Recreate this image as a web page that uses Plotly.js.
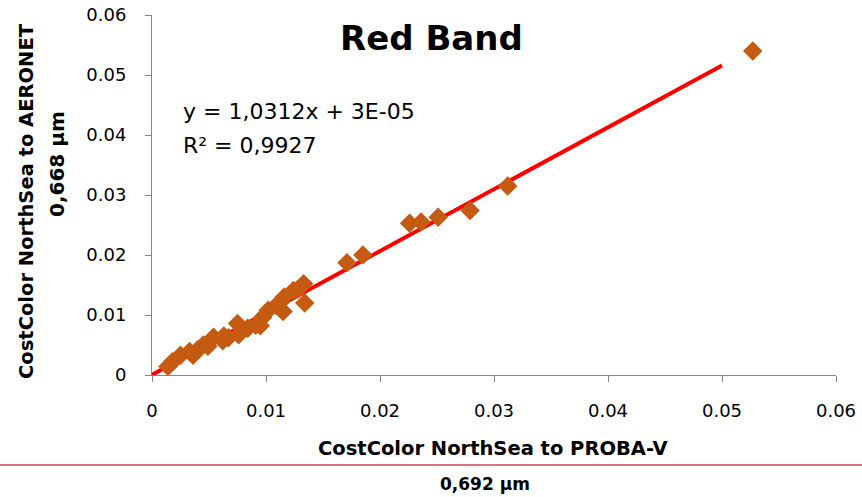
<!DOCTYPE html>
<html>
<head>
<meta charset="utf-8">
<script src="https://cdn.plot.ly/plotly-3.0.1.min.js"></script>
<style>
  html, body { margin: 0; padding: 0; background: #fff; }
  #chart { width: 862px; height: 497px; }
</style>
</head>
<body>
<div id="chart"></div>
<script>
// CostColor NorthSea reflectance, PROBA-V (0,692 µm) vs AERONET (0,668 µm)
const probaV = [
  0.0014, 0.0018, 0.0025, 0.0033, 0.0036, 0.0040, 0.0045, 0.0049, 0.0054, 0.0062,
  0.0063, 0.0067, 0.0075, 0.0076, 0.0084, 0.0091, 0.0095, 0.0097, 0.0102, 0.0109,
  0.0112, 0.0115, 0.0116, 0.0124, 0.0128, 0.0133, 0.0134, 0.0171, 0.0185, 0.0226,
  0.0236, 0.0251, 0.0279, 0.0312, 0.0527
];
const aeronet = [
  0.0014, 0.0022, 0.0033, 0.0039, 0.0033, 0.0042, 0.0050, 0.0048, 0.0063, 0.0057,
  0.0065, 0.0062, 0.0086, 0.0067, 0.0078, 0.0083, 0.0082, 0.0096, 0.0108, 0.0116,
  0.0120, 0.0106, 0.0130, 0.0141, 0.0143, 0.0152, 0.0120, 0.0187, 0.0200, 0.0253,
  0.0255, 0.0263, 0.0274, 0.0315, 0.0540
];

// Linear trend line: y = 1,0312x + 3E-05
const slope = 1.0312;
const intercept = 0.00003;
const trendX = [0, 0.05];
const trendY = trendX.map(x => slope * x + intercept);

const xTicks = [0, 0.01, 0.02, 0.03, 0.04, 0.05, 0.06];
const yTicks = [0, 0.01, 0.02, 0.03, 0.04, 0.05, 0.06];
const xTickText = ['0', '0.01', '0.02', '0.03', '0.04', '0.05', '0.06'];
const yTickText = ['0', '0.01', '0.02', '0.03', '0.04', '0.05', '0.06'];

const FONT = '"DejaVu Sans", "Liberation Sans", sans-serif';
const AXIS_GREY = '#868686';

const traces = [
  {
    x: trendX, y: trendY, type: 'scatter', mode: 'lines',
    line: { color: '#FF0000', width: 4 },
    hoverinfo: 'skip', showlegend: false, cliponaxis: false
  },
  {
    x: probaV, y: aeronet, type: 'scatter', mode: 'markers',
    marker: { symbol: 'diamond', size: 15, color: '#C55A11', line: { width: 0 } },
    showlegend: false, cliponaxis: false
  }
];

const layout = {
  width: 862, height: 497,
  margin: { l: 152, r: 26, t: 15, b: 122 },
  paper_bgcolor: '#ffffff', plot_bgcolor: '#ffffff',
  font: { family: FONT, color: '#000000', size: 18 },
  showlegend: false,
  xaxis: {
    range: [0, 0.06], tickvals: xTicks, ticktext: xTickText,
    showgrid: false, zeroline: false,
    showline: true, linecolor: AXIS_GREY, linewidth: 1,
    ticks: 'outside', ticklen: 6, tickcolor: AXIS_GREY, tickwidth: 1,
    ticklabelstandoff: 13,
    tickfont: { family: FONT, size: 18, color: '#000' }
  },
  yaxis: {
    range: [0, 0.06], tickvals: yTicks, ticktext: yTickText,
    showgrid: false, zeroline: false,
    showline: true, linecolor: AXIS_GREY, linewidth: 1,
    ticks: 'outside', ticklen: 6, tickcolor: AXIS_GREY, tickwidth: 1,
    ticklabelstandoff: 15,
    tickfont: { family: FONT, size: 18, color: '#000' }
  },
  annotations: [
    {
      text: '<b>Red Band</b>', xref: 'paper', yref: 'paper',
      x: (431 - 152) / 684, y: (375 - 38) / 360,
      xanchor: 'center', yanchor: 'middle', showarrow: false,
      font: { family: FONT, size: 34, color: '#000' }
    },
    {
      text: 'y = 1,0312x + 3E-05', xref: 'paper', yref: 'paper',
      x: (181 - 152) / 684, y: (375 - 111) / 360,
      xanchor: 'left', yanchor: 'middle', showarrow: false,
      font: { family: FONT, size: 22, color: '#000' }
    },
    {
      text: 'R² = 0,9927', xref: 'paper', yref: 'paper',
      x: (181 - 152) / 684, y: (375 - 145) / 360,
      xanchor: 'left', yanchor: 'middle', showarrow: false,
      font: { family: FONT, size: 22, color: '#000' }
    },
    {
      text: '<b>CostColor NorthSea to PROBA-V</b>', xref: 'paper', yref: 'paper',
      x: (493 - 152) / 684, y: (375 - 448) / 360,
      xanchor: 'center', yanchor: 'middle', showarrow: false,
      font: { family: FONT, size: 19.5, color: '#000' }
    },
    {
      text: '<b>0,692 µm</b>', xref: 'paper', yref: 'paper',
      x: (485 - 152) / 684, y: (375 - 484) / 360,
      xanchor: 'center', yanchor: 'middle', showarrow: false,
      font: { family: FONT, size: 17, color: '#000' }
    },
    {
      text: '<b>CostColor NorthSea to AERONET</b>', xref: 'paper', yref: 'paper',
      x: (27 - 152) / 684, y: (375 - 201) / 360,
      xanchor: 'center', yanchor: 'middle', showarrow: false, textangle: -90,
      font: { family: FONT, size: 19.5, color: '#000' }
    },
    {
      text: '<b>0,668 µm</b>', xref: 'paper', yref: 'paper',
      x: (57 - 152) / 684, y: (375 - 164) / 360,
      xanchor: 'center', yanchor: 'middle', showarrow: false, textangle: -90,
      font: { family: FONT, size: 20, color: '#000' }
    }
  ],
  shapes: [
    {
      type: 'line', xref: 'paper', yref: 'paper',
      x0: -152 / 684, x1: (862 - 152) / 684,
      y0: (375 - 465) / 360, y1: (375 - 465) / 360,
      line: { color: '#D7737A', width: 2 }
    }
  ]
};

Plotly.newPlot('chart', traces, layout, { staticPlot: true, displayModeBar: false });
</script>
</body>
</html>
